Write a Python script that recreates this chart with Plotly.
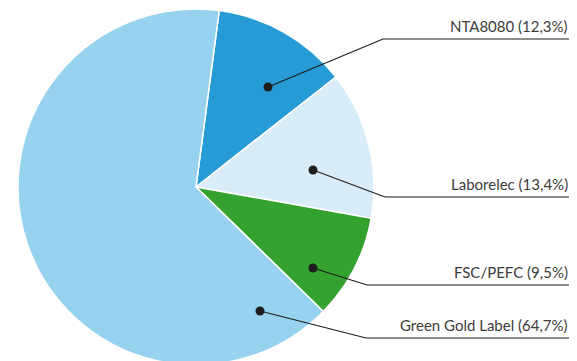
import plotly.graph_objects as go

# ---- data ----
labels = ["NTA8080", "Laborelec", "FSC/PEFC", "Green Gold Label"]
values = [12.3, 13.4, 9.5, 64.7]
value_text = ["12,3%", "13,4%", "9,5%", "64,7%"]
colors = ["#279bd5", "#d8edf9", "#34a22f", "#97d3ef"]

# ---- layout constants (page pixels) ----
W, H = 577, 361
OFF = 8  # default body margin of the written html page
CX, CY, R = 196, 187, 178
dots = [(268, 87), (313, 170), (313, 268), (260, 311)]
elbows = [(383, 39), (385, 197), (367, 285), (366, 338)]
line_end_x = 575
text_end_x = 570


def px(x):
    return (x - OFF) / W


def py(y):
    return 1 - (y - OFF) / H


fig = go.Figure()
fig.add_trace(go.Pie(
    labels=labels,
    values=values,
    sort=False,
    direction="clockwise",
    rotation=7.5,
    marker=dict(colors=colors, line=dict(color="white", width=1.5)),
    textinfo="none",
    hoverinfo="none",
    showlegend=False,
    domain=dict(x=[px(CX - R), px(CX + R)], y=[py(CY + R), py(CY - R)]),
))

shapes = []
annotations = []
for lab, vt, (dx, dy), (ex, ey) in zip(labels, value_text, dots, elbows):
    shapes.append(dict(
        type="path", xref="paper", yref="paper", layer="above",
        path=f"M {px(dx)},{py(dy)} L {px(ex)},{py(ey)} L {px(line_end_x)},{py(ey)}",
        line=dict(color="#1d1d1b", width=1.2),
    ))
    r = 4.5
    shapes.append(dict(
        type="circle", xref="paper", yref="paper", layer="above",
        x0=px(dx - r), x1=px(dx + r), y0=py(dy + r), y1=py(dy - r),
        fillcolor="#1d1d1b", line=dict(width=0),
    ))
    annotations.append(dict(
        text=f"{lab} ({vt})", xref="paper", yref="paper",
        x=px(text_end_x), y=py(ey - 2), xanchor="right", yanchor="bottom",
        showarrow=False, font=dict(family="Lato", size=15, color="#3c3c3b"),
    ))

fig.update_layout(
    width=W, height=H,
    margin=dict(l=0, r=0, t=0, b=0),
    paper_bgcolor="white", plot_bgcolor="white",
    shapes=shapes, annotations=annotations,
)

fig.write_html("out.html")
